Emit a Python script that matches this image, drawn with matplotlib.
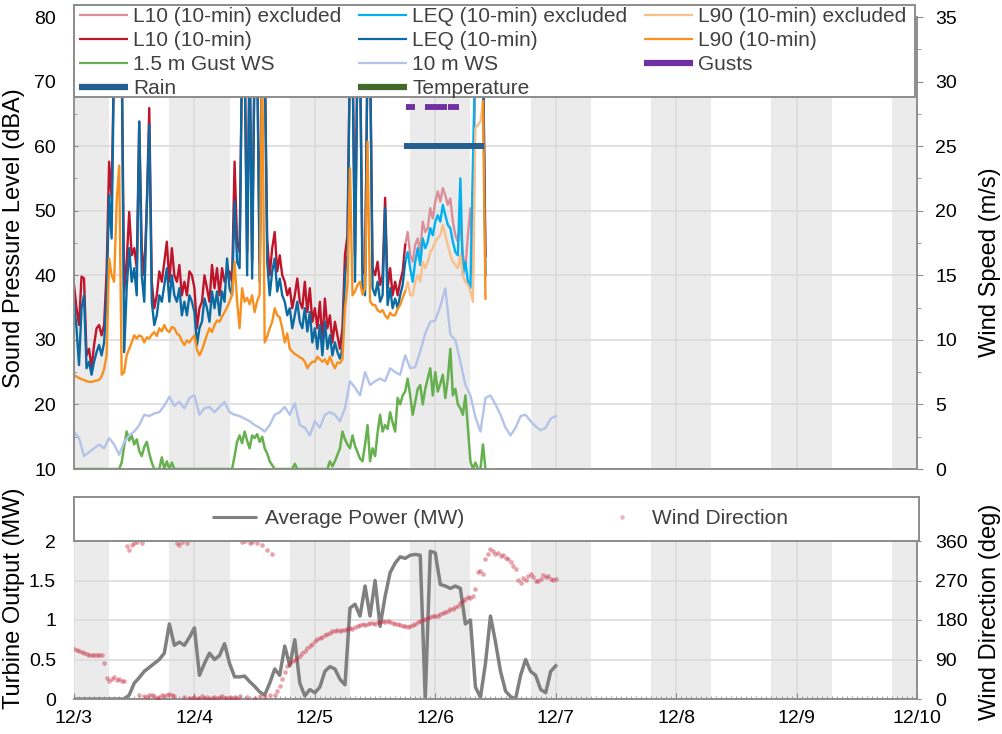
import numpy as np
import matplotlib
matplotlib.use("Agg")
import matplotlib.pyplot as plt
from matplotlib.lines import Line2D
from matplotlib.patches import Rectangle
from matplotlib.ticker import MultipleLocator, FuncFormatter, FixedLocator

plt.rcParams['font.family'] = ['Liberation Sans', 'DejaVu Sans']

# ---------------- data ----------------
day_labels = ['12/3', '12/4', '12/5', '12/6', '12/7', '12/8', '12/9', '12/10']
night_start_h = [0, 19, 43, 67, 91, 115, 139, 163]
night_end_h = [7, 31, 55, 79, 103, 127, 151, 168]

noise_step_h = 0.5
L10 = [
 38.5, 34.9, 32.3, 39.8, 39.5, 27.6, 28.6, 25.6, 29.2, 31.8,
 32.3, 30.7, 32.3, 40.6, 57.6, 51.9, 75, 75, 75, 75,
 37.5, 42.1, 49.8, 43.1, 44.2, 41.1, 63.8, 44.2, 40.0, 50.4,
 65.9, 39, 34.9, 36.9, 40.6, 39, 42.1, 45.2, 39, 44.2,
 40, 39, 41.6, 36.9, 39, 36.9, 40.6, 40, 38, 31.8,
 34.9, 35.9, 40, 38, 35.9, 41.6, 38, 41.1, 36.9, 41.1,
 39, 40, 40.6, 39, 57.6, 45.2, 43.6, 75, 75, 43.6,
 75, 42.1, 75, 75, 42.1, 75, 75, 45.7, 40, 44.2,
 46.7, 40.6, 43.1, 40, 39, 36.9, 38, 34.9, 36.9, 39.5,
 35.9, 34.9, 39, 34.3, 38, 32.8, 34.9, 31.8, 35.9, 29.6,
 36.4, 31.8, 33.8, 29.6, 32.8, 30.7, 28.6, 31.8, 43.1, 46.2,
 75, 75, 43.1, 75, 75, 41.1, 40, 75, 75, 41.1,
 40, 42.1, 38.5, 40, 52, 38, 41.1, 36.9, 39, 36.9,
 39, 40.6, 44.7, 46.7, 43.1, 42.1, 44.7, 45.7, 43.6, 48.3,
 46.7, 47.3, 50.4, 48.8, 51.4, 53, 51.4, 53.5, 52.4, 50.9,
 51.9, 48.3, 46.2, 45.2, 48.3, 43.1, 41.1, 46.2, 50.4, 40,
 75, 75, 75, 75, 43,
]
LEQ = [
 36, 31.8, 26.1, 34.9, 36.9, 25.6, 26.6, 24.6, 26.6, 28.1,
 29.2, 27.6, 29.6, 36.9, 52.4, 45.7, 75, 75, 75, 75,
 28.1, 38, 44.2, 39, 41.1, 36.9, 63.8, 40, 35.9, 50.4,
 63.3, 35.9, 32.3, 33.8, 36.9, 35.9, 38.5, 41.1, 35.9, 40,
 36.9, 35.9, 38, 33.8, 35.9, 33.8, 36.9, 35.9, 34.3, 29.2,
 31.8, 32.8, 36.4, 34.9, 32.8, 37.5, 34.9, 37.5, 33.8, 37.5,
 35.9, 42.6, 38, 36.9, 51.4, 42.1, 41.1, 75, 75, 40,
 75, 39.5, 75, 75, 39, 75, 75, 42.1, 36.9, 40.6,
 42.6, 37.5, 39.5, 36.9, 35.9, 33.8, 34.9, 31.8, 33.8, 35.9,
 32.8, 31.8, 34.9, 31.3, 34.3, 29.6, 31.8, 28.6, 32.3, 27.6,
 32.8, 28.6, 30.7, 27.6, 29.6, 28.1, 27.1, 28.6, 40, 43.1,
 75, 75, 39, 75, 75, 38, 36.9, 75, 75, 38,
 36.9, 39, 35.9, 36.9, 50.4, 35.4, 38, 34.9, 36.4, 34.9,
 36.9, 38.5, 42.1, 43.6, 41.1, 39, 42.1, 44.2, 41.6, 45.7,
 44.2, 45.2, 47.3, 46.2, 48.3, 49.3, 48.3, 50.9, 49.3, 47.8,
 47.3, 45.2, 43.6, 43.1, 55, 40, 42.1, 39, 38, 57.6,
 75, 75, 75, 75, 40,
]
L90 = [
 24.6, 24.3, 24.1, 23.9, 23.8, 23.6, 23.5, 23.5, 23.6, 23.7,
 23.8, 24.3, 25.5, 27.6, 42.6, 40, 39, 51.4, 57, 24.6,
 25, 27.6, 28.6, 29.6, 30.7, 30.2, 30.7, 30.5, 29.6, 30.4,
 30.2, 30.8, 31.2, 30.6, 31.8, 31.3, 32.3, 31.5, 31.2, 32,
 31.8, 31, 30.7, 29.8, 29.2, 29.9, 29.6, 30.2, 30.7, 28.5,
 27.6, 28.4, 29.6, 30.8, 31.8, 31.2, 32.3, 33, 32.8, 33.6,
 34.3, 35, 35.9, 37, 42.1, 36, 31.8, 38, 35.9, 36.5,
 35.5, 36.9, 34.3, 36, 37, 75, 29.6, 30.5, 31.8, 32.8,
 34.9, 33.8, 33.5, 31.8, 29.6, 31, 28.6, 28.2, 27.8, 27.6,
 27.3, 27.1, 26.6, 25.6, 26.2, 26.6, 26.6, 27.4, 27, 26.6,
 27, 26.2, 27.4, 26.4, 25.6, 26.5, 26.4, 27, 34.9, 38.5,
 56.6, 36.9, 37.5, 38.5, 39, 37, 38, 60.7, 36, 35.4,
 35.4, 34.6, 34.3, 34.6, 33.8, 33.3, 34.2, 33.8, 33.8, 34.8,
 35.4, 36.5, 37.5, 39, 36.9, 36.9, 39, 40, 39, 42.1,
 41.1, 42.1, 43.6, 44.2, 45.2, 45.7, 46.2, 47.8, 46.2, 44.7,
 43.1, 42.1, 41.6, 41.1, 43.1, 40, 39, 38.5, 37.5, 35.9,
 62.8, 63.3, 63.8, 66.9, 36.4,
]
gust15_ws = [
 0, 0, 0, 0, 0, 0, 0, 0, 0, 0,
 0, 0, 0, 0, 0, 0, 0, 0, 0, 0.5,
 1.8, 2.9, 2.2, 2.6, 1.9, 2.3, 1.4, 1.0, 1.7, 2.1,
 1.2, 0.5, 0, 0, 0, 0.9, 0, 0.6, 0, 0.5,
 0, 0, 0, 0, 0, 0, 0, 0, 0, 0,
 0, 0, 0, 0, 0, 0, 0, 0, 0, 0,
 0, 0, 0, 0, 1.0, 2.1, 2.6, 2.0, 2.9, 2.2,
 1.6, 2.6, 2.4, 2.7, 2.1, 2.5, 1.6, 1.2, 0.6, 0.3,
 0, 0, 0, 0, 0, 0, 0, 0, 0.4, 0,
 0, 0, 0, 0, 0, 0, 0, 0, 0, 0,
 0, 0, 0.6, 0.2, 0.6, 1.1, 1.6, 2.9, 2.3, 1.9,
 1.6, 2.6, 1.8, 1.3, 0.8, 0.6, 1.9, 3.4, 0.6, 1.6,
 1.0, 2.8, 4.2, 2.9, 3.4, 3.1, 4.4, 3.6, 2.9, 5.5,
 5.0, 5.7, 6.0, 7.0, 5.7, 4.2, 5.2, 6.2, 6.5, 5.0,
 6.2, 7.0, 7.8, 5.7, 7.5, 6.0, 6.6, 7.3, 5.5, 7.0,
 9.3, 5.7, 6.2, 5.0, 4.7, 4.2, 5.7, 3.2, 0.6, 0,
 0.5, 0, 0, 1.9, 0,
]
hourly_step_h = 1.0
ws10 = [
 2.9, 2.4, 1.0, 1.3, 1.6, 1.9, 1.6, 2.4, 1.9, 1.1,
 2.1, 2.6, 2.9, 3.4, 4.2, 4.1, 4.3, 4.4, 4.9, 5.6,
 4.9, 5.2, 4.7, 5.5, 5.7, 4.2, 4.7, 4.8, 4.4, 4.8,
 5.2, 4.4, 4.2, 4.1, 3.9, 3.7, 3.4, 3.2, 2.9, 3.4,
 4.2, 4.4, 4.8, 4.2, 5.1, 3.4, 3.2, 2.6, 3.7, 3.2,
 4.2, 4.4, 4.2, 3.7, 4.7, 6.8, 6.3, 5.7, 7.5, 6.5,
 6.8, 7.0, 6.8, 7.8, 7.5, 7.3, 8.8, 7.8, 7.9, 9.1,
 10.5, 11.4, 11.5, 12.6, 14.0, 10.4, 10.0, 8.3, 6.5, 5.7,
 4.0, 2.9, 5.5, 5.7, 5.0, 4.2, 3.2, 2.6, 3.2, 4.1,
 4.2, 3.7, 3.3, 3.0, 3.2, 3.9, 4.1,
]
power_mw = [
 0, 0, 0, 0, 0, 0, 0, 0, 0, 0,
 0, 0.05, 0.2, 0.27, 0.35, 0.4, 0.45, 0.5, 0.58, 0.95,
 0.68, 0.72, 0.68, 0.78, 0.9, 0.3, 0.45, 0.58, 0.5, 0.55,
 0.7, 0.45, 0.28, 0.28, 0.29, 0.22, 0.16, 0.09, 0.05, 0.2,
 0.38, 0.3, 0.67, 0.42, 0.75, 0.2, 0.04, 0.12, 0.08, 0.15,
 0.35, 0.41, 0.38, 0.25, 0.18, 1.15, 1.2, 1.05, 1.43, 1.05,
 1.5, 0.92, 1.3, 1.6, 1.72, 1.8, 1.78, 1.82, 1.83, 1.82,
 0.0, 1.87, 1.85, 1.45, 1.43, 1.4, 1.43, 1.4, 0.95, 1.0,
 0.15, 0.02, 0.45, 1.05, 0.72, 0.35, 0.1, 0.03, 0.0, 0.3,
 0.5, 0.35, 0.3, 0.12, 0.08, 0.35, 0.42,
]
wd_step_h = 0.5
wind_dir = [
 113, 112, 110, 108, 104, 102, 101, 100, 101, 100,
 100, 101, 82, 47, 42, 45, 50, 44, 46, 42,
 40, 348, 340, 352, 355, 357, 8, 355, 6, 4,
 8, 10, 6, 2, 5, 9, 7, 8, 12, 9,
 6, 355, 352, 358, 4, 356, 3, 2, 5, 1,
 3, 6, 2, 4, 1, 3, 5, 2, 4, 6,
 3, 2, 5, 3, 4, 2, 6, 357, 359, 4,
 356, 358, 3, 355, 7, 352, 5, 340, 8, 330,
 10, 18, 30, 45, 62, 75, 82, 87, 90, 93,
 97, 104, 110, 116, 121, 126, 133, 136, 139, 142,
 145, 148, 151, 154, 156, 158, 155, 157, 158, 160,
 162, 160, 164, 166, 168, 170, 169, 171, 173, 174,
 172, 175, 176, 177, 175, 178, 176, 174, 172, 170,
 168, 167, 166, 165, 166, 168, 170, 175, 178, 181,
 183, 185, 186, 188, 189, 190, 193, 196, 198, 201,
 204, 206, 210, 213, 218, 224, 228, 232, 230, 234,
 250, 290, 292, 285, 318, 330, 341, 338, 330, 333,
 326, 329, 322, 318, 312, 303, 296, 272, 265, 275,
 272, 280, 284, 278, 270, 268, 274, 282, 278, 280,
 274, 272, 273,
]
rain_start_h, rain_end_h = 65.75, 81.75
rain_level_dba = 60
gust_periods_h = [(66.2, 68.0), (70.0, 74.4), (74.6, 76.7)]
gust_level_dba = 66
temp_t, temp_v = [], []

# colors
c_l10x, c_leqx, c_l90x = '#DC8F98', '#00B0F0', '#F8C08A'
c_l10, c_leq, c_l90 = '#C0142B', '#0B6AA2', '#F7901E'
c_g15, c_ws10 = '#66B050', '#B4C3EA'
c_gust, c_rain, c_temp = '#7030A0', '#255E91', '#43682B'
c_pow, c_wd = '#808080', '#C8283C'
c_grid, c_band, c_spine = '#D9D9D9', '#EBEBEB', '#8C8C8C'

# ---------------- figure ----------------
W, H = 1002, 734
fig = plt.figure(figsize=(W / 100, H / 100), dpi=100)
fx = lambda px: px / W
fy = lambda py: 1 - py / H

ax1 = fig.add_axes([fx(74), fy(469), (917 - 74) / W, (469 - 17) / H])
ax2 = fig.add_axes([fx(74), fy(699), (917 - 74) / W, (699 - 541) / H])
ax1r = ax1.twinx()
ax2r = ax2.twinx()

h_noise = np.arange(len(L10)) * noise_step_h
t_noise = h_noise / 24
excl = (h_noise >= rain_start_h) & (h_noise <= rain_end_h)
keep = ~excl
keep_ext = keep | np.r_[keep[1:], False] | np.r_[False, keep[:-1]]

for ax in (ax1, ax2):
    for s, e in zip(night_start_h, night_end_h):
        ax.axvspan(s / 24, e / 24, color=c_band, lw=0, zorder=0)
    ax.set_xlim(0, 7)
    ax.xaxis.set_major_locator(FixedLocator(range(len(day_labels))))
    ax.grid(True, which='major', color=c_grid, lw=1.1)
    ax.set_axisbelow(True)

lw = 1.7
for vals, cx, cn in ((L10, c_l10x, c_l10), (LEQ, c_leqx, c_leq), (L90, c_l90x, c_l90)):
    v = np.array(vals, float)
    ax1.plot(t_noise, np.where(excl, v, np.nan), color=cx, lw=lw, zorder=2)
    ax1.plot(t_noise, np.where(keep_ext, v, np.nan), color=cn, lw=lw, zorder=2)

for s, e in gust_periods_h:
    ax1.plot([s / 24, e / 24], [gust_level_dba, gust_level_dba], color=c_gust, lw=4.2,
             solid_capstyle='butt', zorder=3)
ax1.plot([rain_start_h / 24, rain_end_h / 24], [rain_level_dba, rain_level_dba], color=c_rain,
         lw=4.3, solid_capstyle='butt', zorder=3)

t_g = np.arange(len(gust15_ws)) * noise_step_h / 24
ax1r.plot(t_g, gust15_ws, color=c_g15, lw=1.8, zorder=2)
t_ws = np.arange(len(ws10)) * hourly_step_h / 24
ax1r.plot(t_ws, ws10, color=c_ws10, lw=lw, zorder=2)
ax1r.plot(temp_t, temp_v, color=c_temp, lw=4.5)

ax1.set_ylim(10, 80)
ax1r.set_ylim(0, 35)
ax1.yaxis.set_major_locator(MultipleLocator(10))
ax1.yaxis.set_minor_locator(MultipleLocator(5))
ax1r.yaxis.set_major_locator(MultipleLocator(5))
ax1r.yaxis.set_minor_locator(MultipleLocator(2.5))

t_p = np.arange(len(power_mw)) * hourly_step_h / 24
ax2.plot(t_p, power_mw, color=c_pow, lw=2.5, zorder=2)
t_wd = np.arange(len(wind_dir)) * wd_step_h / 24
ax2r.scatter(t_wd, wind_dir, s=11, color=c_wd, alpha=0.42, linewidths=0, zorder=3)
ax2.set_ylim(0, 2)
ax2r.set_ylim(0, 360)
ax2.yaxis.set_major_locator(MultipleLocator(0.5))
ax2.yaxis.set_major_formatter(FuncFormatter(lambda v, p: f'{v:g}'))
ax2r.yaxis.set_major_locator(MultipleLocator(90))
ax2.set_xticklabels(day_labels)
ax2.xaxis.set_minor_locator(MultipleLocator(1 / 24))

# spines & ticks
for ax in (ax1, ax1r, ax2, ax2r):
    for sp in ax.spines.values():
        sp.set_color(c_spine)
        sp.set_linewidth(1.1)
    ax.spines['top'].set_visible(False)
for ax in (ax2, ax2r):
    ax.spines['left'].set_visible(False)

ax1.tick_params(axis='x', which='both', length=0, labelbottom=False)
ax1.tick_params(axis='y', which='major', direction='in', length=3, color=c_spine, labelsize=14, pad=13)
ax1.tick_params(axis='y', which='minor', direction='in', length=2.5, color=c_spine)
ax1r.tick_params(axis='y', which='major', direction='out', length=4.3, color=c_spine, labelsize=14, pad=9)
ax1r.tick_params(axis='y', which='minor', direction='out', length=3, color=c_spine)
ax2.tick_params(axis='y', which='major', direction='in', length=0, labelsize=14, pad=13)
ax2r.tick_params(axis='y', which='major', direction='out', length=3, color=c_spine, labelsize=14, pad=10)
ax2.tick_params(axis='x', which='major', direction='in', length=4.3, color=c_spine, labelsize=14, pad=8)
ax2.tick_params(axis='x', which='minor', direction='in', length=2.2, color=c_spine)

ax1.set_ylabel('Sound Pressure Level (dBA)', fontsize=17)
ax1.yaxis.set_label_coords((25 - 74) / 843, (469 - 238) / 452)
ax1r.set_ylabel('Wind Speed (m/s)', fontsize=17)
ax1r.yaxis.set_label_coords((979 - 74) / 843, (469 - 262) / 452)
ax2.set_ylabel('Turbine Output (MW)', fontsize=17)
ax2.yaxis.set_label_coords((25 - 74) / 843, (699 - 598) / 158)
ax2r.set_ylabel('Wind Direction (deg)', fontsize=17)
ax2r.yaxis.set_label_coords((979 - 74) / 843, (699 - 612) / 158)

# legends
rect1 = Rectangle((fx(74), fy(97)), (915 - 74) / W, 92 / H, transform=fig.transFigure,
                  facecolor='white', edgecolor=c_spine, lw=1.4, zorder=4)
fig.add_artist(rect1)
rect2 = Rectangle((fx(74), fy(541)), (919 - 74) / W, 44 / H, transform=fig.transFigure,
                  facecolor='white', edgecolor=c_spine, lw=1.4, zorder=4)
fig.add_artist(rect2)

thin = 1.6
def hline(color, width):
    return Line2D([], [], color=color, lw=width, solid_capstyle='butt')

handles = [
    hline(c_l10x, thin), hline(c_l10, thin), hline(c_g15, thin), hline(c_rain, 4.5),
    hline(c_leqx, thin), hline(c_leq, thin), hline(c_ws10, thin), hline(c_temp, 4.5),
    hline(c_l90x, thin), hline(c_l90, thin), hline(c_gust, 4.5),
]
labels = ['L10 (10-min) excluded', 'L10 (10-min)', '1.5 m Gust WS', 'Rain',
          'LEQ (10-min) excluded', 'LEQ (10-min)', '10 m WS', 'Temperature',
          'L90 (10-min) excluded', 'L90 (10-min)', 'Gusts']
leg1 = fig.legend(handles, labels, loc='upper left', bbox_to_anchor=(fx(79), fy(7)), ncol=3,
                  frameon=False, fontsize=15, handlelength=2.35, handletextpad=0.25,
                  columnspacing=0.8, labelspacing=0.24, borderpad=0, borderaxespad=0)
for t in leg1.get_texts():
    t.set_color('#404040')
leg1.set_zorder(5)

h2 = [hline(c_pow, 2.2),
      Line2D([], [], ls='none', marker='o', ms=3.2, color=c_wd, alpha=0.35, mew=0)]
leg2 = fig.legend(h2, ['Average Power (MW)', 'Wind Direction'], loc='center',
                  bbox_to_anchor=(fx(500), fy(519)), ncol=2, frameon=False, fontsize=15,
                  handlelength=2.2, handletextpad=0.35, columnspacing=6.5, numpoints=1,
                  borderpad=0, borderaxespad=0)
for t in leg2.get_texts():
    t.set_color('#404040')
leg2.set_zorder(5)

fig.savefig('out.png', dpi=100)
